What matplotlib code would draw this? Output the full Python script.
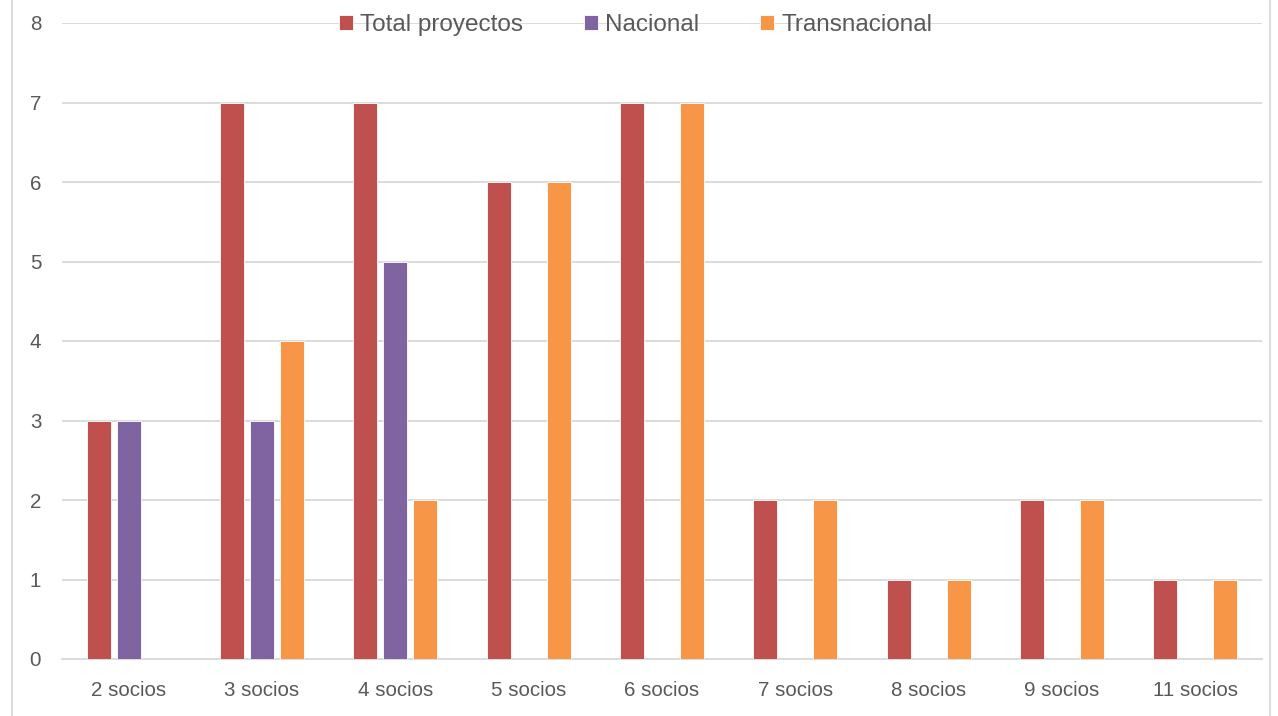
import matplotlib
matplotlib.use('Agg')
import matplotlib.pyplot as plt
import numpy as np

categories = ["2 socios", "3 socios", "4 socios", "5 socios", "6 socios",
              "7 socios", "8 socios", "9 socios", "11 socios"]
total = [3, 7, 7, 6, 7, 2, 1, 2, 1]
nacional = [3, 3, 5, 0, 0, 0, 0, 0, 0]
transnacional = [0, 4, 2, 6, 7, 2, 1, 2, 1]

series = [("Total proyectos", total, "#C0504D"),
          ("Nacional", nacional, "#8064A2"),
          ("Transnacional", transnacional, "#F79646")]

plt.rcParams['font.family'] = ['Liberation Sans', 'DejaVu Sans']
text_color = '#595959'

fig = plt.figure(figsize=(12.78, 7.16), dpi=100)
ax = fig.add_axes([62 / 1278, 57 / 716, 1200 / 1278, 636 / 716])

x = np.arange(len(categories))
width = 0.18
step = 0.225
for i, (name, vals, color) in enumerate(series):
    ax.bar(x + (i - 1) * step, vals, width=width, color=color, label=name,
           edgecolor='white', linewidth=0.6, zorder=3)

ax.set_xlim(-0.5, len(categories) - 0.5)
ax.set_ylim(0, 8)
ax.set_yticks(range(0, 9))
ax.set_xticks(x)
ax.set_xticklabels(categories)
ax.grid(axis='y', color='#d9d9d9', linewidth=1.3, zorder=0)
ax.set_axisbelow(True)
for s in ['top', 'right', 'left']:
    ax.spines[s].set_visible(False)
ax.spines['bottom'].set_color('#d9d9d9')
ax.spines['bottom'].set_linewidth(1.3)
ax.tick_params(axis='both', length=0, colors=text_color, labelsize=14.8)
ax.tick_params(axis='x', pad=16)
ax.tick_params(axis='y', pad=15)

leg = ax.legend(loc='center', bbox_to_anchor=(0.478, 0.997), ncol=3, frameon=False,
                fontsize=17.5, handlelength=0.58, handleheight=0.58, handletextpad=0.3,
                columnspacing=2.5)
for t in leg.get_texts():
    t.set_color(text_color)

# outer chart border (left/right only visible)
fig.add_artist(plt.Line2D([12 / 1278, 12 / 1278], [0, 1], color='#d9d9d9', linewidth=1.3))
fig.add_artist(plt.Line2D([1270 / 1278, 1270 / 1278], [0, 1], color='#d9d9d9', linewidth=1.3))

plt.savefig('out.png', dpi=100)
